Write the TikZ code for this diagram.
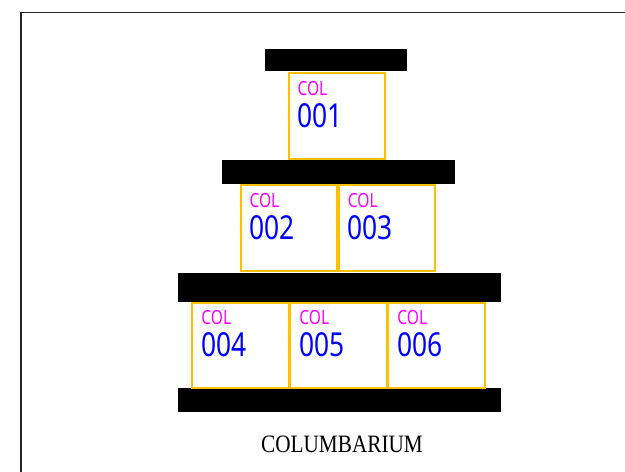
\documentclass[tikz,border=0pt]{standalone}
\usepackage{fontspec}
\newfontfamily\colfont[FakeStretch=0.8]{Noto Sans}
\newfontfamily\capfont[FakeStretch=0.85]{Liberation Serif}
\definecolor{cellgold}{RGB}{255,192,0}
\definecolor{colmag}{RGB}{255,0,255}
\definecolor{numblue}{RGB}{0,0,255}
\tikzset{
  cellbox/.style={draw=cellgold,line width=2pt,fill=white,minimum width=96.5pt,minimum height=85.5pt,inner sep=0pt,outer sep=0pt},
  barbox/.style={fill=black,inner sep=0pt,outer sep=0pt},
  collabel/.style={text=colmag,font=\colfont\fontsize{19.5pt}{19.5pt}\selectfont,anchor=base west,inner sep=0pt},
  numlabel/.style={text=numblue,font=\colfont\fontsize{33pt}{33pt}\selectfont,anchor=base west,inner sep=0pt},
}
\newcommand{\cellat}[4]{%
  \node[cellbox] (cell#1) at (#2,#3) {};
  \node[collabel] (col#1) at ([shift={(-39.5pt,21pt)}]cell#1.center) {COL};
  \node[numlabel] (num#1) at ([shift={(-39.8pt,-11pt)}]cell#1.center) {#4};
}
\begin{document}
\begin{tikzpicture}[x=1pt,y=-1pt]
\useasboundingbox (0,0) rectangle (625,472);
\fill[white] (0,0) rectangle (625,472);
\coordinate (frameTR) at (625,12.5);
\coordinate (frameTL) at (21,12.5);
\coordinate (frameBL) at (21,472);
\draw[line width=1.6pt,black!85] (frameTR) -- (frameTL) -- (frameBL);
\node[barbox,minimum width=142pt,minimum height=22pt] (bar1) at (336,60) {};
\node[barbox,minimum width=232.5pt,minimum height=24pt] (bar2) at (338.3,172) {};
\node[barbox,minimum width=322.5pt,minimum height=29pt] (bar3) at (339.7,287) {};
\node[barbox,minimum width=322.5pt,minimum height=24pt] (bar4) at (339.7,400) {};
\cellat{1}{336.8}{116}{001}
\cellat{2}{288.8}{228}{002}
\cellat{3}{387.2}{228}{003}
\cellat{4}{240.7}{345.5}{004}
\cellat{5}{338.7}{345.5}{005}
\cellat{6}{436.7}{345.5}{006}
\node[font=\capfont\fontsize{25pt}{25pt}\selectfont,text=black,inner sep=0pt] (title) at (342,444) {COLUMBARIUM};
\end{tikzpicture}
\end{document}
